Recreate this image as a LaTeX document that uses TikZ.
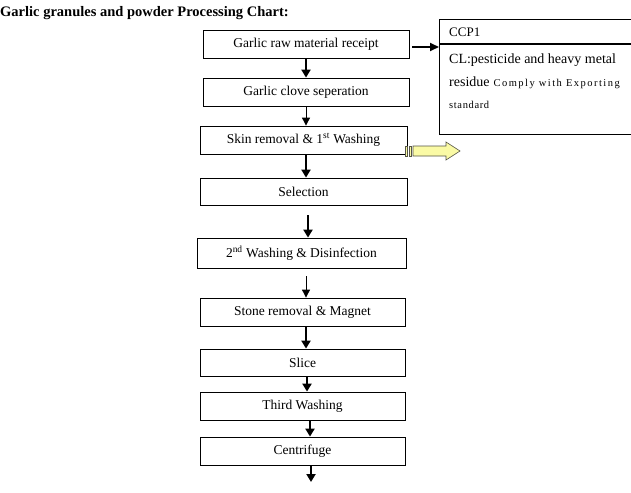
\documentclass[tikz,border=0pt]{standalone}
\usepackage{fontspec}
\setmainfont{Liberation Serif}
\usetikzlibrary{arrows.meta}
\definecolor{blockfill}{RGB}{250,250,165}
\definecolor{blockedge}{RGB}{85,85,70}
\newcommand{\boxfont}{\fontsize{13.5}{15}\selectfont}
\tikzset{
  stepbox/.style={draw=black,line width=.8pt,fill=white,inner sep=0pt,
                  minimum height=28pt,font=\boxfont},
  flow/.style={-{Triangle[length=8pt,width=9pt]},line width=2.4pt},
  thinflow/.style={-{Triangle[length=8pt,width=8pt]},line width=.9pt},
  ccptext/.style={anchor=west,inner sep=0pt},
  striped/.style={fill=blockfill,draw=blockedge,line width=.6pt},
}

\begin{document}
\begin{tikzpicture}[x=1pt,y=-1pt]
  \path[use as bounding box,fill=white] (0,0) rectangle (631,492);
  % --- heading
  \node[anchor=base west,inner sep=0pt,font=\fontsize{14.5}{16}\selectfont\bfseries]
    (title) at (0,17) {Garlic granules and powder Processing Chart:};
  % --- process steps
  \node[stepbox,minimum width=206pt] (raw) at (306,44) {\raisebox{-1pt}{Garlic raw material receipt}};
  \node[stepbox,minimum width=206pt] (clove) at (306,92) {\raisebox{-1pt}{Garlic clove seperation}};
  \node[stepbox,minimum width=207pt] (skin) at (303.5,140)
    {\raisebox{-2pt}{Skin removal \& 1\textsuperscript{st} Washing}};
  \node[stepbox,minimum width=207pt,minimum height=27pt] (sel) at (303.5,191.5) {\raisebox{-1pt}{Selection}};
  \node[stepbox,minimum width=209pt,minimum height=30pt] (wash2) at (301.5,253)
    {\raisebox{-1pt}{2\textsuperscript{nd} Washing \& Disinfection}};
  \node[stepbox,minimum width=205pt] (stone) at (302.5,312) {Stone removal \& Magnet};
  \node[stepbox,minimum width=205pt,minimum height=27pt] (slice) at (302.5,362.5) {Slice};
  \node[stepbox,minimum width=205pt] (wash3) at (302.5,406) {\raisebox{-3pt}{Third Washing}};
  \node[stepbox,minimum width=205pt] (centri) at (302.5,451) {Centrifuge};
  \coordinate (out) at (311,482);
  % --- arrows between steps
  \draw[flow] (raw.south) -- (clove.north);
  \draw[thinflow] (clove.south) -- (clove.south |- skin.north);
  \draw[flow] (skin.south) ++(2.5,0) coordinate (a3) -- (a3 |- sel.north);
  \draw[flow] (sel.south) ++(4.5,10) coordinate (a4) -- (a4 |- wash2.north);
  \draw[thinflow] (wash2.south) ++(4.5,8) coordinate (a5) -- (a5 |- stone.north);
  \draw[flow] (stone.south) ++(3.5,0) coordinate (a6) -- (a6 |- slice.north);
  \draw[flow] (slice.south) ++(4.5,0) coordinate (a7) -- (a7 |- wash3.north);
  \draw[flow] (wash3.south) ++(7.5,0) coordinate (a8) -- (a8 |- centri.north);
  \draw[flow] (centri.south -| out) -- (out);
  % --- CCP1 panel (runs off the right edge)
  \draw[line width=.8pt] (631,19) -- (439,19) -- (439,134) -- (631,134);
  \draw[line width=1.8pt] (439,44) -- (631,44);
  \coordinate (ccpin) at (439,47);
  \draw[-{Triangle[length=9pt,width=8pt]},line width=2pt,shorten <=3pt]
    (raw.east |- ccpin) -- (ccpin);
  \node[ccptext,font=\fontsize{13}{15}\selectfont] (ccphead) at (449,32) {CCP1};
  \node[ccptext,font=\fontsize{14}{16}\selectfont] (ccpcl) at (449,60)
    {CL:pesticide and heavy metal};
  \node[ccptext] (ccpres) at (449,83)
    {{\fontsize{14}{16}\selectfont residue}\hspace{4pt}%
     {\fontsize{10.5}{12}\selectfont\addfontfeatures{LetterSpace=14}Comply with Exporting}};
  \node[ccptext,font=\fontsize{10.5}{12}\selectfont] (ccpstd) at (449,105)
    {\addfontfeatures{LetterSpace=6}standard};
  % --- striped block arrow off the skin removal step
  \draw[striped] (405,146) rectangle (407.5,156);
  \draw[striped] (409,146) rectangle (411.5,156);
  \draw[striped] (413,146) -- (446,146) -- (446,142) -- (460,151)
    -- (446,160) -- (446,156) -- (413,156) -- cycle;
\end{tikzpicture}
\end{document}
